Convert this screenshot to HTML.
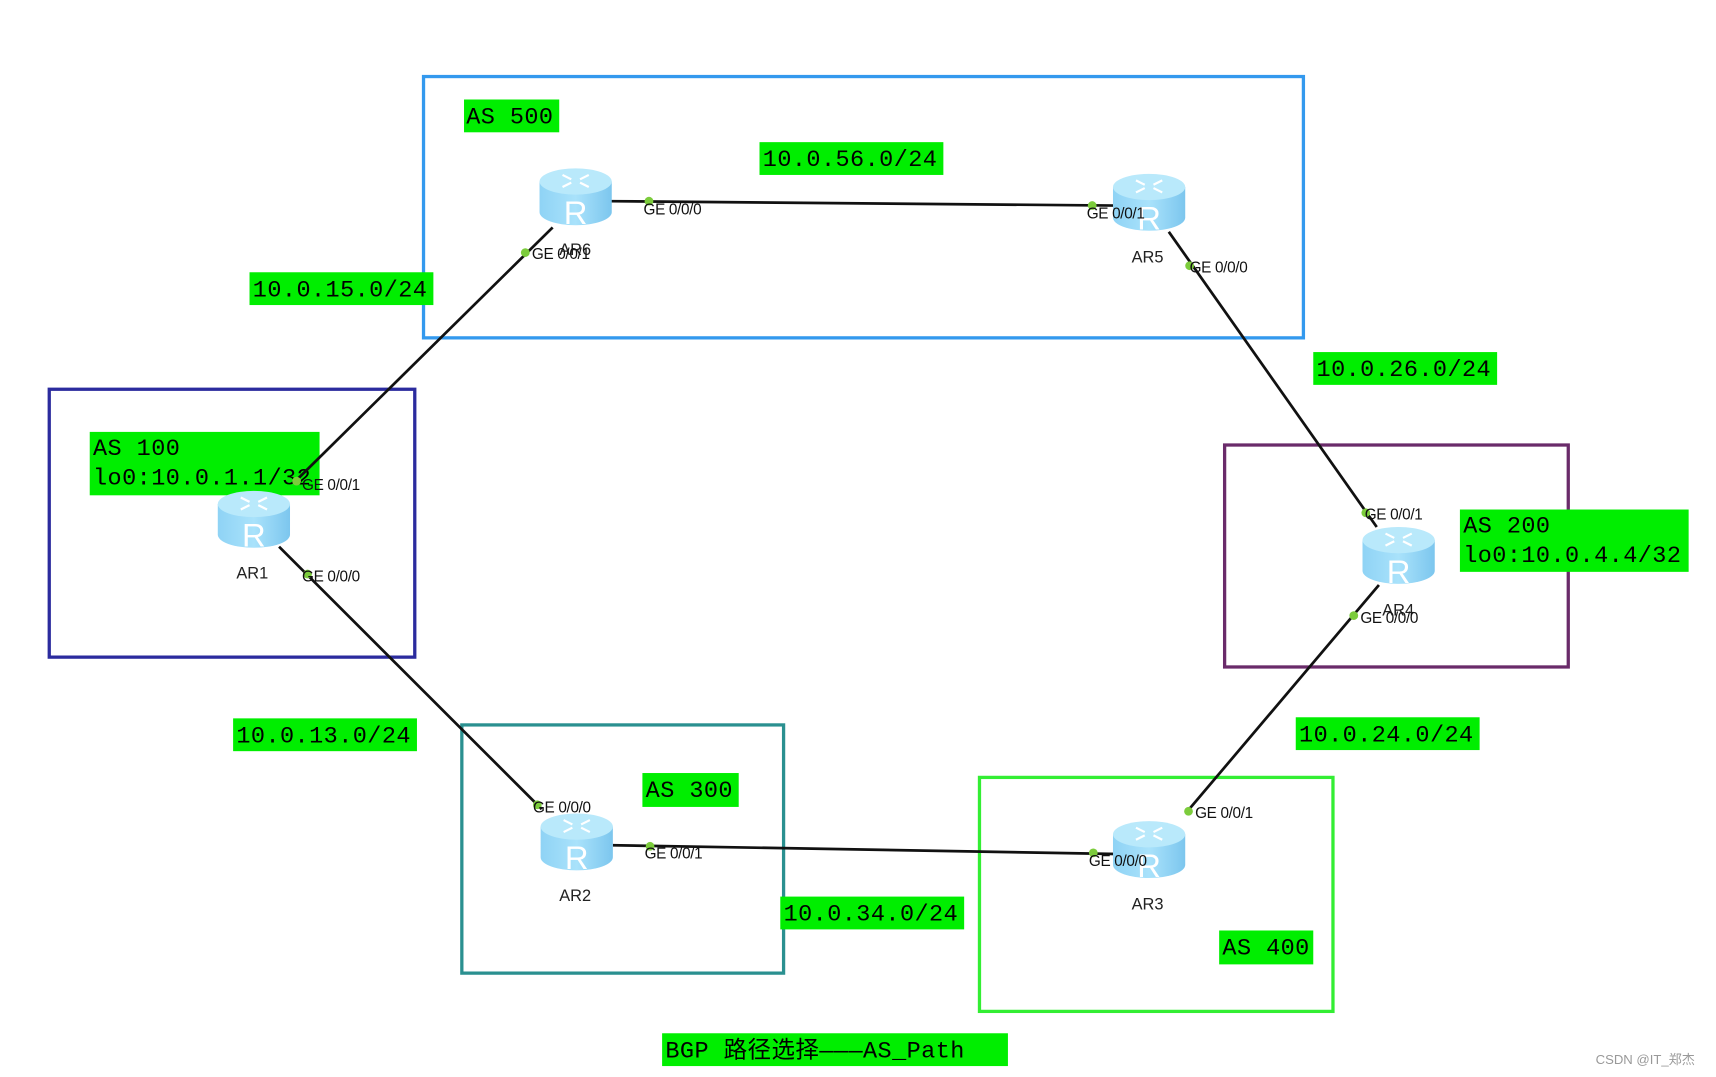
<!DOCTYPE html>
<html><head><meta charset="utf-8"><style>
html,body{margin:0;padding:0;background:#fff;}
svg{display:block}
.lbl{font-family:"Liberation Mono","Noto Sans CJK SC",monospace;font-size:21.5px;letter-spacing:0.4px;fill:#000}
.port{font-family:"Liberation Sans",sans-serif;font-size:14px;fill:#111;letter-spacing:-0.3px}
.name{font-family:"Liberation Sans",sans-serif;font-size:15px;fill:#222}
.R{font-family:"Liberation Sans",sans-serif;font-size:30px;fill:#fff;text-anchor:middle}
</style></head><body>
<svg width="1716" height="1077" viewBox="0 0 1568 985" preserveAspectRatio="none" xmlns="http://www.w3.org/2000/svg">
<defs>
<linearGradient id="body" x1="0" x2="1">
<stop offset="0" stop-color="#8fd3f5"/><stop offset="0.5" stop-color="#a9e2fb"/><stop offset="1" stop-color="#7cc6ee"/>
</linearGradient>
<g id="rt">
<path d="M-33,-14 L-33,14 A33,12 0 0 0 33,14 L33,-14 Z" fill="url(#body)"/>
<ellipse cx="0" cy="-14" rx="33" ry="12" fill="#b9e9fb"/>
<path d="M-12,-20 l8,4 M-12,-9 l8,-4 M12,-20 l-8,4 M12,-9 l-8,-4" stroke="#fff" stroke-width="2" fill="none"/>
</g>
</defs>
<rect width="1568" height="985" fill="#fff"/>
<rect x="387" y="70" width="804" height="239" fill="none" stroke="#3399ee" stroke-width="3"/>
<rect x="45" y="356" width="334" height="245" fill="none" stroke="#2b2b9e" stroke-width="3"/>
<rect x="1119" y="407" width="314" height="203" fill="none" stroke="#6a2b6a" stroke-width="3"/>
<rect x="422" y="663" width="294" height="227" fill="none" stroke="#2a9090" stroke-width="3"/>
<rect x="895" y="711" width="323" height="214" fill="none" stroke="#33ee33" stroke-width="3"/>
<g fill="#00ee00">
<rect x="424" y="91" width="87" height="30"/>
<rect x="694" y="130" width="168" height="30"/>
<rect x="228" y="249" width="168" height="30"/>
<rect x="1200" y="322" width="168" height="30"/>
<rect x="82" y="395" width="210" height="58"/>
<rect x="1334" y="466" width="209" height="57"/>
<rect x="213" y="657" width="168" height="30"/>
<rect x="587" y="707" width="88" height="31"/>
<rect x="1184" y="656" width="168" height="30"/>
<rect x="713" y="820" width="168" height="30"/>
<rect x="1114" y="851" width="86" height="31"/>
<rect x="605" y="945" width="316" height="30"/>
</g>
<text class="lbl" x="426" y="113">AS 500</text>
<text class="lbl" x="697" y="152">10.0.56.0/24</text>
<text class="lbl" x="231" y="271">10.0.15.0/24</text>
<text class="lbl" x="1203" y="344">10.0.26.0/24</text>
<text class="lbl" x="85" y="416">AS 100</text>
<text class="lbl" x="85" y="443">lo0:10.0.1.1/32</text>
<text class="lbl" x="1337" y="487">AS 200</text>
<text class="lbl" x="1337" y="514">lo0:10.0.4.4/32</text>
<text class="lbl" x="216" y="679">10.0.13.0/24</text>
<text class="lbl" x="590" y="729">AS 300</text>
<text class="lbl" x="1187" y="678">10.0.24.0/24</text>
<text class="lbl" x="716" y="842">10.0.34.0/24</text>
<text class="lbl" x="1117" y="873">AS 400</text>
<text class="lbl" x="608" y="967">BGP 路径选择———AS_Path</text>
<g stroke="#111" stroke-width="2.5">
<line x1="558" y1="184" x2="1020" y2="188"/>
<line x1="505" y1="208" x2="270" y2="440"/>
<line x1="1068" y1="212" x2="1258" y2="482"/>
<line x1="255" y1="500" x2="495" y2="740"/>
<line x1="560" y1="773" x2="1020" y2="781"/>
<line x1="1085" y1="742" x2="1260" y2="535"/>
</g>
<use href="#rt" x="526" y="180"/><text class="R" x="526" y="205">R</text>
<use href="#rt" x="1050" y="185"/><text class="R" x="1050" y="210">R</text>
<use href="#rt" x="232" y="475"/><text class="R" x="232" y="500">R</text>
<use href="#rt" x="1278" y="508"/><text class="R" x="1278" y="533">R</text>
<use href="#rt" x="527" y="770"/><text class="R" x="527" y="795">R</text>
<use href="#rt" x="1050" y="777"/><text class="R" x="1050" y="802">R</text>
<text class="name" x="511" y="233">AR6</text>
<text class="name" x="1034" y="240">AR5</text>
<text class="name" x="216" y="529">AR1</text>
<text class="name" x="1263" y="563">AR4</text>
<text class="name" x="511" y="824">AR2</text>
<text class="name" x="1034" y="832">AR3</text>
<g fill="#7ccc3c">
<circle cx="593" cy="184" r="4"/><circle cx="480" cy="231" r="4"/>
<circle cx="998" cy="188" r="4"/><circle cx="1087" cy="243" r="4"/>
<circle cx="271" cy="440" r="4"/><circle cx="281" cy="525" r="4"/>
<circle cx="1248" cy="469" r="4"/><circle cx="1237" cy="563" r="4"/>
<circle cx="491" cy="736" r="4"/><circle cx="594" cy="774" r="4"/>
<circle cx="999" cy="780" r="4"/><circle cx="1086" cy="742" r="4"/>
</g>
<text class="port" x="588" y="196">GE 0/0/0</text>
<text class="port" x="486" y="237">GE 0/0/1</text>
<text class="port" x="993" y="200">GE 0/0/1</text>
<text class="port" x="1087" y="249">GE 0/0/0</text>
<text class="port" x="276" y="448">GE 0/0/1</text>
<text class="port" x="276" y="532">GE 0/0/0</text>
<text class="port" x="1247" y="475">GE 0/0/1</text>
<text class="port" x="1243" y="570">GE 0/0/0</text>
<text class="port" x="487" y="743">GE 0/0/0</text>
<text class="port" x="589" y="785">GE 0/0/1</text>
<text class="port" x="995" y="792">GE 0/0/0</text>
<text class="port" x="1092" y="748">GE 0/0/1</text>
<text x="1458" y="973" font-family="Liberation Sans,'Noto Sans CJK SC',sans-serif" font-size="12" fill="#999">CSDN @IT_郑杰</text>
</svg>
</body></html>
